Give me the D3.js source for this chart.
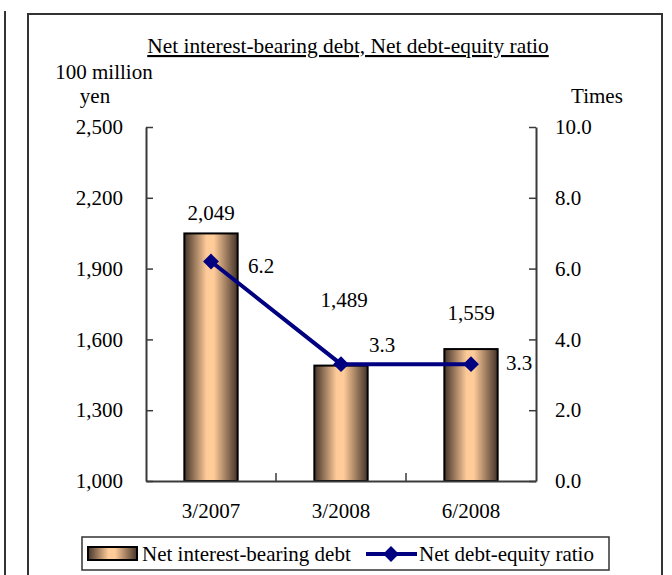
<!DOCTYPE html>
<html>
<head>
<meta charset="utf-8">
<script src="https://cdn.jsdelivr.net/npm/d3@7"></script>
<style>
  html, body { margin: 0; padding: 0; background: #fff; }
  svg { display: block; font-family: "Liberation Serif", "Times New Roman", serif; }
</style>
</head>
<body>
<svg id="chart" width="672" height="575"></svg>
<script>
// Periods on the horizontal axis
const categories = ["3/2007", "3/2008", "6/2008"];
// Net interest-bearing debt (100 million yen), left axis
const debtValues = [2049, 1489, 1559];
// Net debt-equity ratio (times), right axis
const ratioValues = [6.2, 3.3, 3.3];
// Axis tick values
const leftTicks = [1000, 1300, 1600, 1900, 2200, 2500];
const rightTicks = [0, 2, 4, 6, 8, 10];

// Hand-placed label offsets (pixels) so the labels do not collide
const debtLabelOffsets = [[0, -20], [3, -66], [0, -36]];
const ratioLabelOffsets = [[50, 4], [41, -19], [48, -1]];

const svg = d3.select("#chart");
const plot = { left: 146, right: 536, top: 127, bottom: 481 };
const axisColor = "#3a3a3a";
const lineColor = "#000080";
const fs = 21;

// Neighbouring frame edge on the left and the chart frame
svg.append("line").attr("x1", 5).attr("x2", 5).attr("y1", 11).attr("y2", 575)
  .attr("stroke", "#333").attr("stroke-width", 2);
svg.append("path").attr("d", "M28,576 V14 H662 V576")
  .attr("fill", "none").attr("stroke", "#333").attr("stroke-width", 2);

// Bar fill: dark edges, light centre
const defs = svg.append("defs");
const grad = defs.append("linearGradient").attr("id", "barGrad")
  .attr("x1", "0%").attr("x2", "100%").attr("y1", "0%").attr("y2", "0%");
grad.append("stop").attr("offset", "0%").attr("stop-color", "#45342a");
grad.append("stop").attr("offset", "42%").attr("stop-color", "#ffcc99");
grad.append("stop").attr("offset", "55%").attr("stop-color", "#ffcc99");
grad.append("stop").attr("offset", "100%").attr("stop-color", "#45342a");

const x = d3.scaleBand().domain(categories).range([plot.left, plot.right]).paddingInner(0).paddingOuter(0);
const yL = d3.scaleLinear().domain([1000, 2500]).range([plot.bottom, plot.top]);
const yR = d3.scaleLinear().domain([0, 10]).range([plot.bottom, plot.top]);
const barW = x.bandwidth() * 0.41;

// Title
svg.append("text").attr("x", 348).attr("y", 53).attr("text-anchor", "middle")
  .attr("font-size", 21.4).attr("text-decoration", "underline").attr("fill", "#000")
  .text("Net interest-bearing debt, Net debt-equity ratio");

// Axis unit labels
svg.append("text").attr("x", 104).attr("y", 79).attr("text-anchor", "middle")
  .attr("font-size", fs).text("100 million");
svg.append("text").attr("x", 95).attr("y", 103).attr("text-anchor", "middle")
  .attr("font-size", fs).text("yen");
svg.append("text").attr("x", 597).attr("y", 103).attr("text-anchor", "middle")
  .attr("font-size", fs).text("Times");

// Bars
svg.append("g").selectAll("rect").data(debtValues).join("rect")
  .attr("x", (d, i) => x(categories[i]) + (x.bandwidth() - barW) / 2)
  .attr("y", d => yL(d))
  .attr("width", barW)
  .attr("height", d => yL(1000) - yL(d))
  .attr("fill", "url(#barGrad)")
  .attr("stroke", "#000").attr("stroke-width", 2);

// Left axis
const leftAxis = d3.axisLeft(yL).tickValues(leftTicks).tickSizeInner(-7).tickSizeOuter(0)
  .tickFormat(d3.format(","));
const gL = svg.append("g").attr("transform", `translate(${plot.left},0)`).call(leftAxis);
gL.select(".domain").attr("stroke", axisColor).attr("stroke-width", 2);
gL.selectAll(".tick line").attr("stroke", axisColor).attr("stroke-width", 1.5);
gL.selectAll(".tick text").attr("x", -23).attr("font-size", fs)
  .attr("font-family", "Liberation Serif").attr("fill", "#000");

// Right axis
const rightAxis = d3.axisRight(yR).tickValues(rightTicks).tickSizeInner(-7).tickSizeOuter(0)
  .tickFormat(d3.format(".1f"));
const gR = svg.append("g").attr("transform", `translate(${plot.right},0)`).call(rightAxis);
gR.select(".domain").attr("stroke", axisColor).attr("stroke-width", 2);
gR.selectAll(".tick line").attr("stroke", axisColor).attr("stroke-width", 1.5);
gR.selectAll(".tick text").attr("x", 19).attr("font-size", fs)
  .attr("font-family", "Liberation Serif").attr("fill", "#000");

// Bottom axis with category dividers pointing up
const gB = svg.append("g").attr("transform", `translate(0,${plot.bottom})`)
  .call(d3.axisBottom(x).tickSize(0).tickPadding(22));
gB.select(".domain").attr("stroke", axisColor).attr("stroke-width", 2);
gB.selectAll(".tick text").attr("font-size", fs).attr("font-family", "Liberation Serif").attr("fill", "#000");
gB.selectAll("line.divider").data(categories.slice(1)).join("line").attr("class", "divider")
  .attr("x1", d => x(d)).attr("x2", d => x(d)).attr("y1", 0).attr("y2", -8)
  .attr("stroke", axisColor).attr("stroke-width", 1.5);

// Ratio line
const cx = (d, i) => x(categories[i]) + x.bandwidth() / 2;
svg.append("path").datum(ratioValues)
  .attr("d", d3.line().x(cx).y(d => yR(d)))
  .attr("fill", "none").attr("stroke", lineColor).attr("stroke-width", 4);
const diamond = d3.symbol().type(d3.symbolDiamond2).size(160);
svg.append("g").selectAll("path").data(ratioValues).join("path")
  .attr("d", diamond)
  .attr("transform", (d, i) => `translate(${cx(d, i)},${yR(d)})`)
  .attr("fill", lineColor);

// Value labels
svg.append("g").selectAll("text").data(debtValues).join("text")
  .attr("x", (d, i) => cx(d, i) + debtLabelOffsets[i][0])
  .attr("y", (d, i) => yL(d) + debtLabelOffsets[i][1])
  .attr("text-anchor", "middle").attr("dominant-baseline", "central")
  .attr("font-size", fs).text(d => d3.format(",")(d));
svg.append("g").selectAll("text").data(ratioValues).join("text")
  .attr("x", (d, i) => cx(d, i) + ratioLabelOffsets[i][0])
  .attr("y", (d, i) => yR(d) + ratioLabelOffsets[i][1])
  .attr("text-anchor", "middle").attr("dominant-baseline", "central")
  .attr("font-size", fs).text(d => d3.format(".1f")(d));

// Legend
const lg = svg.append("g");
lg.append("rect").attr("x", 82).attr("y", 537).attr("width", 527).attr("height", 33)
  .attr("fill", "#fff").attr("stroke", "#333").attr("stroke-width", 1.5);
lg.append("rect").attr("x", 88).attr("y", 547).attr("width", 49).attr("height", 13)
  .attr("fill", "url(#barGrad)").attr("stroke", "#000").attr("stroke-width", 2);
lg.append("text").attr("x", 142).attr("y", 554).attr("dominant-baseline", "central")
  .attr("font-size", fs).text("Net interest-bearing debt");
lg.append("line").attr("x1", 366).attr("x2", 417).attr("y1", 554).attr("y2", 554)
  .attr("stroke", lineColor).attr("stroke-width", 4);
lg.append("path").attr("d", diamond).attr("transform", "translate(391,554)").attr("fill", lineColor);
lg.append("text").attr("x", 419).attr("y", 554).attr("dominant-baseline", "central")
  .attr("font-size", fs).text("Net debt-equity ratio");
</script>
</body>
</html>
